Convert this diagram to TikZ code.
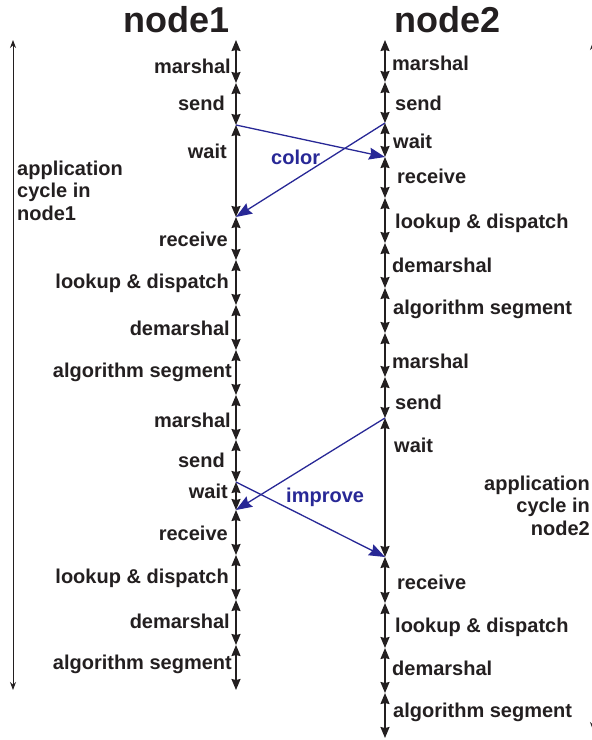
\documentclass[tikz,border=0pt]{standalone}
\usepackage{fontspec}
\setmainfont{Liberation Sans}
\usetikzlibrary{arrows.meta}
\definecolor{ink}{RGB}{35,31,32}
\definecolor{msg}{RGB}{40,40,150}
\begin{document}
\begin{tikzpicture}[x=1pt,y=-1pt,
  seg/.style={draw=ink, line width=1.5pt, {Stealth[length=11pt,width=9pt,inset=1pt]}-{Stealth[length=11pt,width=9pt,inset=1pt]}},
  cycle/.style={draw=ink, line width=1pt, {Stealth[length=8pt,width=6pt]}-{Stealth[length=8pt,width=6pt]}},
  msgarrow/.style={draw=msg, line width=1.3pt, -{Stealth[length=16pt,width=12pt,inset=2pt]}},
  lbl/.style={inner sep=0pt, text=ink, font=\bfseries\fontsize{20}{22}\selectfont},
  msglbl/.style={inner sep=0pt, text=msg, font=\bfseries\fontsize{20}{22}\selectfont},
  ttl/.style={inner sep=0pt, text=ink, font=\bfseries\fontsize{36}{38}\selectfont},
  cyc/.style={inner sep=0pt, text=ink, font=\bfseries\fontsize{20}{22.5}\selectfont, align=left}
]
\useasboundingbox (0,0) rectangle (592,740);
% titles
\node[ttl, anchor=base] (t1) at (177,32) {node1};
\node[ttl, anchor=base] (t2) at (448,32) {node2};
% timeline boundaries
\foreach \y [count=\i] in {40,83,125,217,260,305,350,395,440,482,510,555,600,645,690}
  \coordinate (a\i) at (236,\y);
\foreach \y [count=\i] in {40,82,123,157,198,243,288,333,377,418,557,603,648,693,738}
  \coordinate (b\i) at (385,\y);
\foreach \i [evaluate=\i as \j using int(\i+1)] in {1,...,14} {
  \draw[seg] (a\i) -- (a\j);
  \draw[seg] (b\i) -- (b\j);
}
% node1 labels
\node[lbl, anchor=base east] (la1) at (231,73) {marshal};
\node[lbl, anchor=base east] (la2) at (225,110) {send};
\node[lbl, anchor=base east] (la3) at (227,158) {wait};
\node[lbl, anchor=base east] (la4) at (228,246) {receive};
\node[lbl, anchor=base east] (la5) at (229,288) {lookup \& dispatch};
\node[lbl, anchor=base east] (la6) at (230,335) {demarshal};
\node[lbl, anchor=base east] (la7) at (232,377) {algorithm segment};
\node[lbl, anchor=base east] (la8) at (231,427) {marshal};
\node[lbl, anchor=base east] (la9) at (225,467) {send};
\node[lbl, anchor=base east] (la10) at (228,498) {wait};
\node[lbl, anchor=base east] (la11) at (228,540) {receive};
\node[lbl, anchor=base east] (la12) at (229,583) {lookup \& dispatch};
\node[lbl, anchor=base east] (la13) at (230,628) {demarshal};
\node[lbl, anchor=base east] (la14) at (232,669) {algorithm segment};
% node2 labels
\node[lbl, anchor=base west] (lb1) at (392,70) {marshal};
\node[lbl, anchor=base west] (lb2) at (395,110) {send};
\node[lbl, anchor=base west] (lb3) at (393,148) {wait};
\node[lbl, anchor=base west] (lb4) at (397,183) {receive};
\node[lbl, anchor=base west] (lb5) at (395,228) {lookup \& dispatch};
\node[lbl, anchor=base west] (lb6) at (392,272) {demarshal};
\node[lbl, anchor=base west] (lb7) at (393,314) {algorithm segment};
\node[lbl, anchor=base west] (lb8) at (392,368) {marshal};
\node[lbl, anchor=base west] (lb9) at (395,409) {send};
\node[lbl, anchor=base west] (lb10) at (394,452) {wait};
\node[lbl, anchor=base west] (lb11) at (397,589) {receive};
\node[lbl, anchor=base west] (lb12) at (395,632) {lookup \& dispatch};
\node[lbl, anchor=base west] (lb13) at (392,675) {demarshal};
\node[lbl, anchor=base west] (lb14) at (393,717) {algorithm segment};
% messages
\draw[msgarrow] (a3) -- (b4);
\draw[msgarrow] (b3) -- (a4);
\draw[msgarrow] (b10) -- (a11);
\draw[msgarrow] (a10) -- (b11);
\node[msglbl, anchor=base west] (m1) at (271,164) {color};
\node[msglbl, anchor=base west] (m2) at (286,502) {improve};
% application cycles
\coordinate (c1) at (13,40);
\coordinate (c2) at (13,690);
\draw[cycle] (c1) -- (c2);
\node[cyc, anchor=base west] (cy1) at (17,220) {application\\cycle in\\node1};
\coordinate (d1) at (593,42);
\coordinate (d2) at (593,730);
\draw[cycle] (d1) -- (d2);
\node[cyc, align=right, anchor=base east] (cy2) at (590,535) {application\\cycle in\\node2};
\end{tikzpicture}
\end{document}
